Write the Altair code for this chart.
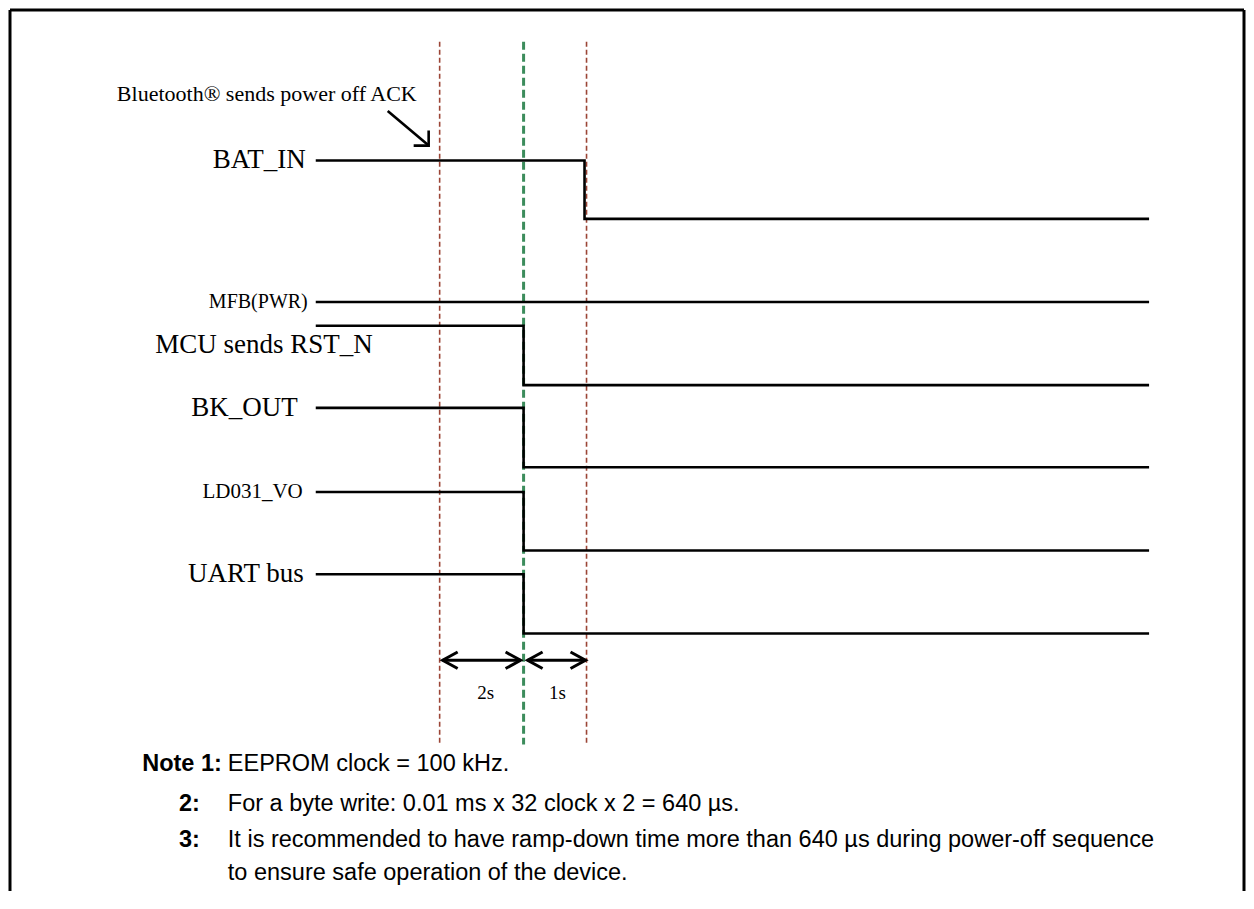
import altair as alt
import pandas as pd

# ---------------- data (diagram units ~ picture positions) ----------------
signal_names = ["BAT_IN", "MFB(PWR)", "MCU sends RST_N", "BK_OUT", "LD031_VO", "UART bus"]
level_high = [162, 305, 329, 412, 497, 580]
level_low = [221, 305, 389, 472, 556, 640]
edge_pos = [584, 1149, 523, 523, 523, 523]
trace_start = 315
trace_end = 1149
label_right = [305, 307, 372, 297, 302, 303]
label_mid = [162, 305, 348, 412, 497, 580]
label_size = [27, 20, 27, 27, 21, 27]

marker_pos = [439, 523, 586]
marker_kind = ["ack", "rst", "off"]
marker_top = 42
marker_bottom = 752

interval_start = [442, 527]
interval_end = [520, 585]
interval_labels = ["2s", "1s"]
interval_label_x = [485, 557]
interval_y = 667
interval_label_y = 700

ack_text = "Bluetooth\u00ae sends power off ACK"
ack_text_x = [266]
ack_text_y = [95]
ack_arrow_from = [387, 112]
ack_arrow_to = [428, 147]

note_numbers = ["Note 1:", "2:", "3:", ""]
note_texts = [
    "EEPROM clock = 100 kHz.",
    "For a byte write: 0.01 ms x 32 clock x 2 = 640 \u00b5s.",
    "It is recommended to have ramp-down time more than 640 \u00b5s during power-off sequence",
    "to ensure safe operation of the device.",
]
note_num_right = [221, 199, 199, 199]
note_text_left = 227
note_y = [772, 812, 849, 882]

frame_left = 9
frame_right = 1244
frame_top = 10
frame_bottom = 900

# ---------------- tables ----------------
rows = []
for i, name in enumerate(signal_names):
    pts = [(trace_start, level_high[i]), (edge_pos[i], level_high[i]),
           (edge_pos[i], level_low[i]), (trace_end, level_low[i])]
    for k, (px, py) in enumerate(pts):
        rows.append({"signal": name, "order": k, "x": px, "y": py})
traces = pd.DataFrame(rows)

labels = pd.DataFrame({"text": signal_names, "x": label_right, "y": label_mid, "size": label_size})
markers = pd.DataFrame({"x": marker_pos, "kind": marker_kind,
                        "y": [marker_top] * 3, "y2": [marker_bottom] * 3})
intervals = pd.DataFrame({"x": interval_start, "x2": interval_end, "y": [interval_y] * 2})
heads_left = pd.DataFrame({"x": interval_start, "y": [interval_y] * 2})
heads_right = pd.DataFrame({"x": interval_end, "y": [interval_y] * 2})
interval_txt = pd.DataFrame({"x": interval_label_x, "y": [interval_label_y] * 2, "text": interval_labels})
ack_df = pd.DataFrame({"x": ack_text_x, "y": ack_text_y, "text": [ack_text]})
ack_arrow = pd.DataFrame({"x": [ack_arrow_from[0]], "y": [ack_arrow_from[1]],
                          "x2": [ack_arrow_to[0]], "y2": [ack_arrow_to[1]]})
ack_head = pd.DataFrame({"x": [ack_arrow_to[0]], "y": [ack_arrow_to[1]]})
notes_num = pd.DataFrame({"x": note_num_right, "y": note_y, "text": note_numbers})
notes_txt = pd.DataFrame({"x": [note_text_left] * 4, "y": note_y, "text": note_texts})
frame_h = pd.DataFrame({"x": [frame_left], "x2": [frame_right], "y": [frame_top]})
frame_v = pd.DataFrame({"x": [frame_left, frame_right], "y": [frame_top] * 2, "y2": [frame_bottom] * 2})

W, H = 1238, 885
xs = alt.Scale(domain=[8, 8 + W], nice=False, zero=False)
ys = alt.Scale(domain=[8, 8 + H], nice=False, zero=False, reverse=True)
X = lambda f="x": alt.X(f"{f}:Q", scale=xs, axis=None)
Y = lambda f="y": alt.Y(f"{f}:Q", scale=ys, axis=None)

serif = "Liberation Serif"
sans = "Liberation Sans"

frame_top_l = alt.Chart(frame_h).mark_rule(color="black", strokeWidth=3).encode(x=X(), x2="x2:Q", y=Y())
frame_side_l = alt.Chart(frame_v).mark_rule(color="black", strokeWidth=3).encode(x=X(), y=Y(), y2="y2:Q")

red_markers = alt.Chart(markers).transform_filter("datum.kind != 'rst'").mark_rule(
    color="#9b4536", strokeWidth=1.6, strokeDash=[5, 3]).encode(x=X(), y=Y(), y2="y2:Q")
green_marker = alt.Chart(markers).transform_filter("datum.kind == 'rst'").mark_rule(
    color="#3c8c5c", strokeWidth=3, strokeDash=[8, 4]).encode(x=X(), y=Y(), y2="y2:Q")

trace_l = alt.Chart(traces).mark_line(color="black", strokeWidth=2.6, interpolate="linear").encode(
    x=X(), y=Y(), detail="signal:N", order="order:Q")

label_l = alt.Chart(labels).mark_text(align="right", baseline="middle", font=serif, color="black").encode(
    x=X(), y=Y(), text="text:N", size=alt.Size("size:Q", scale=None))

int_l = alt.Chart(intervals).mark_rule(color="black", strokeWidth=3).encode(x=X(), x2="x2:Q", y=Y())
hl = alt.Chart(heads_left).mark_point(shape="M 1 -0.55 L 0 0 L 1 0.55", size=900, filled=False,
                                      color="black", strokeWidth=3, opacity=1).encode(x=X(), y=Y())
hr = alt.Chart(heads_right).mark_point(shape="M -1 -0.55 L 0 0 L -1 0.55", size=900, filled=False,
                                       color="black", strokeWidth=3, opacity=1).encode(x=X(), y=Y())
int_t = alt.Chart(interval_txt).mark_text(font=serif, fontSize=19, color="black", baseline="middle").encode(
    x=X(), y=Y(), text="text:N")

ack_t = alt.Chart(ack_df).mark_text(font=serif, fontSize=22, color="black", baseline="middle").encode(
    x=X(), y=Y(), text="text:N")
ack_a = alt.Chart(ack_arrow).mark_rule(color="black", strokeWidth=2.6).encode(x=X(), y=Y(), x2="x2:Q", y2="y2:Q")
ack_h = alt.Chart(ack_head).mark_point(shape="M -1 0 L 0 0 L 0 -1", size=900, filled=False,
                                       color="black", strokeWidth=2.6, opacity=1).encode(x=X(), y=Y())

note_n = alt.Chart(notes_num).mark_text(font=sans, fontSize=23.5, fontWeight="bold", align="right",
                                        baseline="middle", color="black").encode(x=X(), y=Y(), text="text:N")
note_t = alt.Chart(notes_txt).mark_text(font=sans, fontSize=23.5, align="left",
                                        baseline="middle", color="black").encode(x=X(), y=Y(), text="text:N")

chart = alt.layer(
    frame_top_l, frame_side_l, red_markers, green_marker, trace_l, label_l,
    int_l, hl, hr, int_t, ack_t, ack_a, ack_h, note_n, note_t
).properties(
    width=W, height=H, padding=0,
    autosize=alt.AutoSizeParams(type="fit", contains="padding"),
    background="white",
).configure_view(stroke=None)

chart.save("out.html", embed_options={"renderer": "svg", "actions": False})
